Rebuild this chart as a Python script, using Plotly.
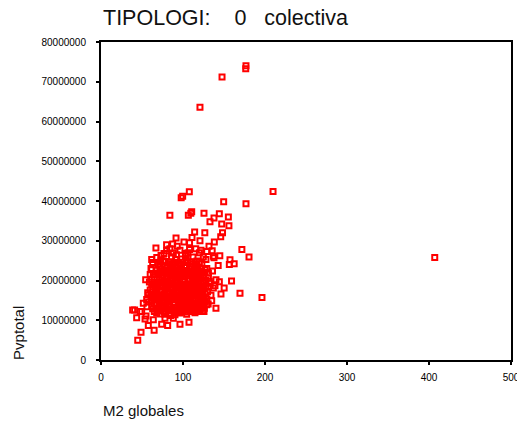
import plotly.graph_objects as go

# Floor area (m2) and total sale price for the "colectiva" housing type
m2_globales = [
    120.7, 147.6, 176.8, 176.5, 407.0, 209.8, 176.8, 196.3, 149.6, 99.6,
    97.8, 107.7, 84.0, 106.5, 110.6, 109.5, 125.6, 137.8, 144.3, 155.3,
    132.9, 147.2, 156.0, 114.2, 126.6, 148.2, 146.0, 91.5, 87.4, 101.2,
    111.0, 120.7, 138.2, 131.7, 135.6, 67.0, 171.8, 180.5, 144.9, 157.3,
    156.5, 162.4, 142.9, 159.2, 169.5, 150.2, 144.3, 146.3, 134.1, 140.2,
    130.7, 107.3, 96.3, 81.3, 74.0, 64.8, 48.8, 44.8, 57.7, 43.5,
    38.6, 41.0, 47.6, 54.9, 54.5, 61.8, 61.8, 73.2, 76.8, 88.2,
    98.4, 112.2, 124.8, 137.8, 115.5, 96.3, 78.0, 116.7, 126.8, 130.9,
    139.0, 120.7, 112.6, 104.5, 90.2, 78.0, 67.9, 128.9, 122.0, 137.0,
    128.0, 124.8, 140.2, 137.0, 130.9, 132.1, 124.8, 118.7, 125.6, 128.9,
    114.6, 49.6, 53.7, 61.8, 61.0, 72.0, 57.7, 55.7, 51.6, 63.8,
    78.0, 88.2, 96.3, 78.0, 63.8, 67.9, 80.0, 92.0, 104.0, 108.0,
    120.0,
    62, 64, 66, 68, 69, 70, 71, 72, 73, 74,
    75, 76, 77, 78, 79, 80, 81, 82, 83, 84,
    85, 86, 87, 88, 89, 90, 91, 92, 93, 94,
    95, 96, 97, 98, 99, 100, 101, 102, 103, 104,
    105, 106, 107, 108, 109, 110, 111, 112, 113, 114,
    115, 116, 117, 118, 119, 120, 121, 122, 123, 124,
    125, 127, 128, 129, 126, 118, 108, 100, 92, 85,
    63, 65, 67, 70, 72, 74, 76, 77, 79, 80,
    82, 83, 84, 86, 87, 88, 90, 91, 92, 93,
    94, 95, 96, 97, 98, 99, 100, 101, 102, 103,
    104, 105, 106, 107, 108, 109, 110, 111, 112, 113,
    114, 115, 116, 117, 119, 120, 121, 122, 123, 124,
    126, 127, 129, 130, 131, 133, 135, 136, 66, 69,
    71, 73, 75, 78, 81, 85, 89, 94, 97, 102,
    106, 110, 114, 118, 60, 58, 57, 59, 60, 56,
    65, 63, 68, 73, 86, 91, 103, 84, 93, 106,
    108, 80,
    61, 63, 65, 67, 69, 71, 73, 75, 77, 79,
    81, 83, 85, 87, 89, 91, 93, 95, 97, 99,
    101, 103, 105, 107, 109, 111, 113, 115, 117, 119,
    121, 123, 125,
    61, 63, 65, 67, 69, 71, 73, 75, 77, 79,
    81, 83, 85, 87, 89, 91, 93, 95, 97, 99,
    101, 103, 105, 107, 109, 111, 113, 115, 117, 119,
    121, 123, 125, 127,
    62, 64, 66, 68, 70, 72, 74, 76, 78, 80,
    82, 84, 86, 88, 90, 92, 94, 96, 98, 100,
    102, 104, 106, 108, 110, 112, 114, 116, 118, 120,
    122, 124, 126, 128,
    66, 68, 70, 72, 74, 76, 78, 80, 82, 84,
    86, 88, 90, 92, 94, 96, 98, 100, 102, 104,
    106, 108, 110, 112, 114, 116, 118, 120, 122, 124,
    72, 78, 84, 86, 90, 94, 100, 104, 106, 112,
    116, 120,
]

pvptotal = [
    63.6e6, 71.2e6, 74.0e6, 73.3e6, 25.8e6, 42.4e6, 39.3e6, 15.7e6, 39.8e6, 41.2e6,
    40.8e6, 42.3e6, 36.4e6, 36.4e6, 37.3e6, 36.9e6, 36.9e6, 35.7e6, 36.8e6, 36.0e6,
    34.8e6, 34.2e6, 33.8e6, 32.2e6, 32.0e6, 32.0e6, 31.0e6, 30.7e6, 29.2e6, 29.7e6,
    30.8e6, 30.0e6, 29.7e6, 28.6e6, 27.5e6, 28.2e6, 27.8e6, 25.9e6, 26.2e6, 25.2e6,
    24.0e6, 24.2e6, 23.8e6, 19.9e6, 16.8e6, 18.1e6, 19.7e6, 16.6e6, 16.3e6, 13.0e6,
    14.1e6, 9.5e6, 9.0e6, 8.7e6, 9.0e6, 7.5e6, 7.0e6, 5.0e6, 8.7e6, 10.6e6,
    12.6e6, 12.6e6, 12.2e6, 11.1e6, 20.2e6, 22.7e6, 25.3e6, 26.3e6, 26.8e6, 26.9e6,
    25.4e6, 25.9e6, 25.9e6, 25.7e6, 28.0e6, 27.6e6, 24.8e6, 23.2e6, 22.7e6, 20.6e6,
    18.7e6, 12.6e6, 12.2e6, 11.5e6, 11.4e6, 11.5e6, 11.8e6, 27.3e6, 27.6e6, 26.1e6,
    25.3e6, 21.0e6, 20.2e6, 18.1e6, 18.5e6, 19.8e6, 14.9e6, 13.1e6, 12.2e6, 13.9e6,
    11.9e6, 12.2e6, 10.3e6, 19.2e6, 23.0e6, 23.6e6, 16.4e6, 15.2e6, 14.3e6, 10.1e6,
    10.5e6, 10.5e6, 11.8e6, 14.3e6, 21.5e6, 18.1e6, 27.5e6, 26.5e6, 26.8e6, 27.8e6,
    27.0e6,
    13.5e6, 15.8e6, 17.2e6, 19.5e6, 21.8e6, 12.8e6, 14.6e6, 16.4e6, 18.3e6, 20.1e6,
    22.4e6, 13.2e6, 15.1e6, 17.6e6, 19.2e6, 21.0e6, 23.2e6, 12.4e6, 14.0e6, 16.0e6,
    17.9e6, 19.8e6, 21.6e6, 23.9e6, 13.1e6, 15.3e6, 17.0e6, 18.8e6, 20.7e6, 22.5e6,
    24.4e6, 12.9e6, 14.7e6, 16.5e6, 18.2e6, 20.3e6, 22.0e6, 23.6e6, 13.6e6, 15.6e6,
    17.4e6, 19.1e6, 21.2e6, 22.9e6, 24.7e6, 14.2e6, 16.2e6, 18.0e6, 19.7e6, 21.5e6,
    23.3e6, 15.0e6, 16.9e6, 18.6e6, 20.5e6, 22.2e6, 13.9e6, 15.7e6, 17.5e6, 19.4e6,
    21.3e6, 16.6e6, 20.0e6, 23.0e6, 13.0e6, 13.5e6, 12.5e6, 12.2e6, 12.0e6, 11.2e6,
    18.4e6, 20.9e6, 14.2e6, 24.1e6, 11.6e6, 17.3e6, 25.0e6, 19.9e6, 12.1e6, 16.8e6,
    20.6e6, 24.6e6, 13.5e6, 15.2e6, 18.9e6, 22.1e6, 11.9e6, 19.9e6, 23.1e6, 15.9e6,
    17.6e6, 13.7e6, 21.4e6, 19.0e6, 24.0e6, 15.5e6, 17.1e6, 14.1e6, 19.6e6, 21.7e6,
    25.1e6, 12.6e6, 16.0e6, 18.4e6, 20.4e6, 14.9e6, 23.7e6, 20.8e6, 15.4e6, 12.8e6,
    17.3e6, 19.0e6, 21.9e6, 24.9e6, 14.4e6, 16.1e6, 18.1e6, 20.9e6, 24.3e6, 12.4e6,
    18.0e6, 22.0e6, 15.3e6, 17.2e6, 21.9e6, 19.3e6, 14.9e6, 22.4e6, 16.3e6, 15.1e6,
    20.4e6, 22.9e6, 18.6e6, 14.8e6, 17.2e6, 20.2e6, 16.8e6, 14.6e6, 22.9e6, 16.7e6,
    13.9e6, 18.9e6, 14.0e6, 21.0e6, 17.6e6, 14.6e6, 16.9e6, 19.6e6, 21.5e6, 13.4e6,
    12.2e6, 24.5e6, 25.8e6, 25.2e6, 26.0e6, 25.3e6, 26.3e6, 28.0e6, 28.6e6, 27.0e6,
    29.5e6, 29.0e6,
    15.0e6, 12.9e6, 14.0e6, 13.0e6, 12.3e6, 13.3e6, 12.6e6, 13.8e6, 12.2e6, 13.6e6,
    12.9e6, 11.7e6, 13.3e6, 12.6e6, 14.4e6, 12.4e6, 13.3e6, 12.2e6, 13.4e6, 12.7e6,
    13.1e6, 12.1e6, 14.2e6, 13.3e6, 12.5e6, 13.1e6, 13.9e6, 12.6e6, 13.6e6, 12.2e6,
    12.9e6, 14.1e6, 13.3e6,
    16.6e6, 16.0e6, 15.4e6, 16.9e6, 16.3e6, 15.5e6, 16.1e6, 15.6e6, 16.5e6, 15.9e6,
    15.3e6, 16.8e6, 15.8e6, 16.4e6, 15.4e6, 16.0e6, 16.9e6, 15.6e6, 16.2e6, 16.9e6,
    15.8e6, 16.3e6, 15.5e6, 16.6e6, 15.9e6, 17.1e6, 16.1e6, 15.4e6, 16.1e6, 16.5e6,
    15.9e6, 16.4e6, 15.6e6, 14.7e6,
    20.3e6, 19.0e6, 18.5e6, 17.8e6, 18.9e6, 19.6e6, 18.6e6, 19.5e6, 18.7e6, 19.6e6,
    18.5e6, 19.3e6, 18.3e6, 19.4e6, 18.7e6, 19.3e6, 18.4e6, 19.1e6, 17.8e6, 18.8e6,
    18.3e6, 19.0e6, 17.9e6, 18.7e6, 17.6e6, 19.4e6, 18.4e6, 18.0e6, 19.3e6, 18.4e6,
    19.2e6, 17.8e6, 19.8e6, 18.3e6,
    21.5e6, 22.6e6, 21.6e6, 22.2e6, 21.3e6, 21.9e6, 22.5e6, 21.8e6, 22.4e6, 21.4e6,
    22.5e6, 21.2e6, 22.1e6, 21.5e6, 20.9e6, 22.2e6, 21.3e6, 22.3e6, 21.0e6, 22.4e6,
    21.6e6, 21.8e6, 22.1e6, 21.4e6, 22.8e6, 20.8e6, 22.6e6, 21.3e6, 22.3e6, 21.8e6,
    24.6e6, 23.7e6, 23.4e6, 24.2e6, 24.5e6, 23.8e6, 24.6e6, 23.8e6, 24.5e6, 24.2e6,
    24.1e6, 24.6e6,
]

x_ticks = [0, 100, 200, 300, 400, 500]
y_ticks = [0, 10000000, 20000000, 30000000, 40000000, 50000000, 60000000, 70000000, 80000000]

fig = go.Figure()
fig.add_trace(go.Scatter(
    x=m2_globales,
    y=pvptotal,
    mode="markers",
    marker=dict(symbol="square-open", size=5, color="#ff0000",
                line=dict(color="#ff0000", width=2)),
    showlegend=False,
    hoverinfo="x+y",
))

tick_font = dict(family="Liberation Sans, Arial, sans-serif", size=10, color="#000000")

fig.update_layout(
    width=517,
    height=425,
    margin=dict(l=101, r=6, t=42, b=65),
    paper_bgcolor="#ffffff",
    plot_bgcolor="#ffffff",
    xaxis=dict(
        range=[0, 500],
        tickvals=x_ticks,
        ticktext=[str(v) for v in x_ticks],
        showgrid=False,
        zeroline=False,
        showline=True,
        linecolor="#000000",
        linewidth=2,
        mirror=True,
        ticks="outside",
        ticklen=3,
        tickwidth=1.5,
        tickcolor="#000000",
        tickfont=tick_font,
        ticklabelstandoff=4,
        ticklabeloverflow="allow",
        automargin=False,
    ),
    yaxis=dict(
        range=[0, 80000000],
        tickvals=y_ticks,
        ticktext=[str(v) for v in y_ticks],
        showgrid=False,
        zeroline=False,
        showline=True,
        linecolor="#000000",
        linewidth=2,
        mirror=True,
        ticks="outside",
        ticklen=3,
        tickwidth=1.5,
        tickcolor="#000000",
        tickfont=tick_font,
        ticklabelstandoff=8,
        automargin=False,
    ),
    annotations=[
        dict(
            text="TIPOLOGI:\u00a0\u00a0\u00a0\u00a00\u00a0\u00a0\u00a0colectiva",
            xref="paper", yref="paper", x=0, y=1.074,
            xanchor="left", yanchor="middle", showarrow=False,
            font=dict(family="Liberation Sans, Arial, sans-serif", size=21.5, color="#111111"),
        ),
        dict(
            text="Pvptotal",
            xref="paper", yref="paper", x=-0.2, y=0.085,
            xanchor="center", yanchor="middle", textangle=-90, showarrow=False,
            font=dict(family="Liberation Sans, Arial, sans-serif", size=15, color="#111111"),
        ),
        dict(
            text="M2 globales",
            xref="paper", yref="paper", x=0, y=-0.16,
            xanchor="left", yanchor="middle", showarrow=False,
            font=dict(family="Liberation Sans, Arial, sans-serif", size=15, color="#111111"),
        ),
    ],
)

fig.write_html("out.html")
